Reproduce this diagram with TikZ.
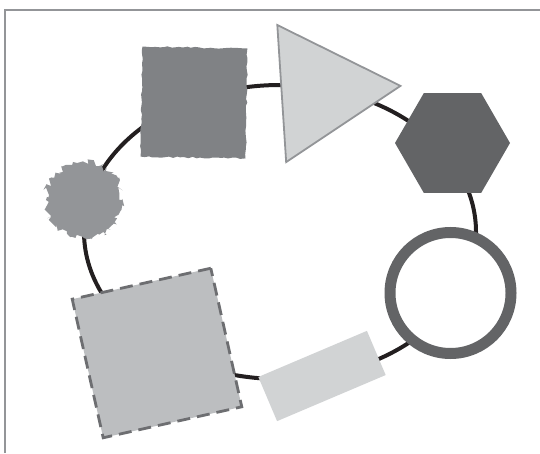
\documentclass[tikz,border=0pt]{standalone}
\usepackage{tikz}
\usetikzlibrary{shapes.geometric}
\usetikzlibrary{positioning}
\usetikzlibrary{decorations.pathmorphing}
\definecolor{framegrey}{HTML}{939598}
\definecolor{loopblack}{HTML}{231F20}
\definecolor{paintgrey}{HTML}{808285}
\definecolor{palegrey}{HTML}{D1D3D4}
\definecolor{midgrey}{HTML}{939598}
\definecolor{darkgrey}{HTML}{636466}
\definecolor{lightgrey}{HTML}{BCBEC0}
\definecolor{dashgrey}{HTML}{6D6E71}
\pgfmathsetseed{11}
\begin{document}
\begin{tikzpicture}
			[
				x = 1pt, y = 1pt,
				frameline/.style = {draw = framegrey, line width = 2pt},
				loopline/.style = {draw = loopblack, line width = 4pt},
				paintbox/.style = {rectangle, fill = paintgrey, inner sep = 0pt, decorate, decoration = {random steps, segment length = 4pt, amplitude = 0.8pt}},
				arrowhead/.style = {regular polygon, regular polygon sides = 3, fill = palegrey, draw = midgrey, line width = 1.8pt, inner sep = 0pt},
				hexbox/.style = {regular polygon, regular polygon sides = 6, fill = darkgrey, inner sep = 0pt},
				ringbox/.style = {circle, draw = darkgrey, fill = white, line width = 11pt, inner sep = 0pt},
				barbox/.style = {rectangle, fill = palegrey, inner sep = 0pt},
				dashbox/.style = {rectangle, fill = lightgrey, draw = dashgrey, line width = 2.8pt, dash pattern = on 13pt off 7pt, inner sep = 0pt},
				splatbox/.style = {circle, fill = midgrey, inner sep = 0pt, decorate, decoration = {random steps, segment length = 2.5pt, amplitude = 3.5pt}}
			]
			%
			\useasboundingbox (0,0) rectangle (540,453);
			\draw [frameline] (5,0) |- (540,443);
			%
			\coordinate (loopcentre) at (280,221);
			\draw [loopline] (loopcentre) ellipse [x radius = 196, y radius = 147];
			%
			\node (painted) [paintbox, minimum width = 105pt, minimum height = 110pt, rotate = -1] at (194,350.5) {};
			%
			\node (pointer) [arrowhead, minimum size = 158.6pt, rotate = -86.3] at (321.3,362) {};
			%
			\node (hexagon) [hexbox, minimum size = 115pt] at (452.5,310) {};
			%
			\node (ring) [ringbox, minimum size = 121pt] at (450.5,160) {};
			%
			\node (bar) [barbox, minimum width = 118pt, minimum height = 48pt, rotate = 23] at (322,77) {};
			%
			\node (dashed) [dashbox, minimum size = 142pt, rotate = 12.6] at (157,100) {};
			%
			\node (splat) [splatbox, minimum size = 76pt] at (84,253) {};
			%
\end{tikzpicture}
\end{document}
